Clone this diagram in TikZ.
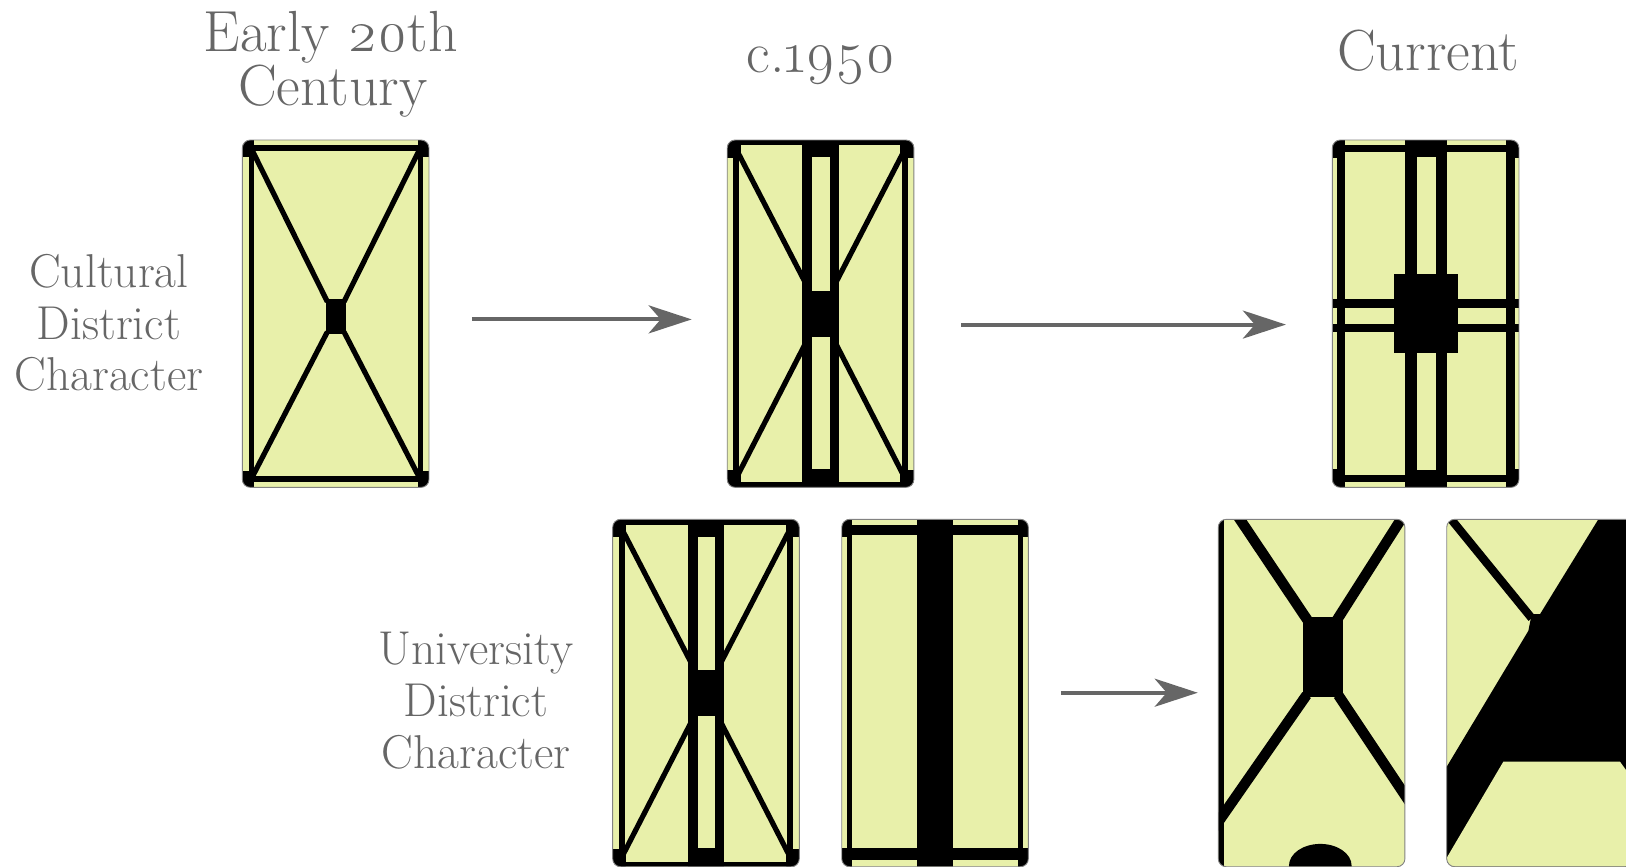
\documentclass[tikz,border=0pt]{standalone}
\usepackage{fontspec}
\setmainfont{lmroman17-regular.otf}[Numbers=OldStyle]
\usetikzlibrary{arrows.meta}
\definecolor{blk}{RGB}{232,240,170}
\definecolor{txt}{RGB}{102,102,102}
\definecolor{edgegray}{RGB}{130,130,130}
\tikzset{
  headtxt/.style={text=txt, font=\fontsize{58}{60}\selectfont, inner sep=0pt, anchor=base},
  sidetxt/.style={text=txt, font=\fontsize{47.5}{50}\selectfont, inner sep=0pt, anchor=base},
  flow/.style={draw=txt, line width=4pt, -{Stealth[length=43pt,width=28pt,inset=12pt]}},
  plotedge/.style={draw=edgegray, line width=0.9pt, rounded corners=8pt},
  plotclip/.style={rounded corners=8pt},
  road/.style={line width=5.2pt},
  wideroad/.style={line width=10.4pt},
}
\newcommand{\plotbase}{\fill[blk] (0,0) rectangle (180,335);}
\newcommand{\plotB}{%
  \plotbase
  \fill (0,0) rectangle (180,5);
  \fill (0,330) rectangle (180,335);
  \fill (6,0) rectangle (11.5,335);
  \fill (168.5,0) rectangle (174,335);
  \fill (0,0) rectangle (13,17);
  \fill (167,0) rectangle (180,17);
  \fill (0,318) rectangle (13,335);
  \fill (167,318) rectangle (180,335);
  \fill (72.4,0) rectangle (107.6,335);
  \fill[blk] (82,16.7) rectangle (99,145.3);
  \fill[blk] (82,189.6) rectangle (99,317.3);
  \draw[road] (8.7,9) -- (75,137);
  \draw[road] (171.3,9) -- (105,137);
  \draw[road] (8.7,326) -- (75,197);
  \draw[road] (171.3,326) -- (105,197);
}
\begin{document}
\begin{tikzpicture}[x=1.037pt, y=-1.037pt]
\useasboundingbox (0,0) rectangle (1568,836);

% headings
\node[headtxt] (h1a) at (319,50) {Early 20th};
\node[headtxt] (h1b) at (321,102) {Century};
\node[headtxt] (h2) at (792,70) {c.1950};
\node[headtxt] (h3) at (1377,68) {Current};

% row labels
\node[sidetxt] (c1) at (105,277) {Cultural};
\node[sidetxt] (c2) at (105,327) {District};
\node[sidetxt] (c3) at (105,377) {Character};
\node[sidetxt] (u1) at (459,641) {University};
\node[sidetxt] (u2) at (459,691) {District};
\node[sidetxt] (u3) at (459,741) {Character};

% Block A: early 20th century, cultural
\begin{scope}[shift={(233.7,135)}]
  \begin{scope}
    \clip[plotclip] (0,0) rectangle (180,335);
    \plotbase
    \fill (6,0) rectangle (11,335);
    \fill (169,0) rectangle (174,335);
    \fill (0,5) rectangle (180,11);
    \fill (0,324) rectangle (180,330);
    \fill (0,0) rectangle (11,16);
    \fill (169,0) rectangle (180,16);
    \fill (0,319) rectangle (11,335);
    \fill (169,319) rectangle (180,335);
    \fill (80.5,153.5) rectangle (99.5,187.5);
    \draw[road] (8.5,8) -- (82,156);
    \draw[road] (171.5,8) -- (98,156);
    \draw[road] (8.5,327) -- (82,185);
    \draw[road] (171.5,327) -- (98,185);
  \end{scope}
  \draw[plotedge] (0,0) rectangle (180,335);
\end{scope}

% Block B: c.1950, cultural
\begin{scope}[shift={(701.3,135)}]
  \begin{scope}
    \clip[plotclip] (0,0) rectangle (180,335);
    \plotB
  \end{scope}
  \draw[plotedge] (0,0) rectangle (180,335);
\end{scope}

% Block C: current, cultural
\begin{scope}[shift={(1284.8,135)}]
  \begin{scope}
    \clip[plotclip] (0,0) rectangle (180,335);
    \plotbase
    \fill (0,153.6) rectangle (180,185.4);
    \fill[blk] (0,162.3) rectangle (180,177.4);
    \fill (4.2,0) rectangle (12.2,335);
    \fill (167.8,0) rectangle (175.8,335);
    \fill (0,4.8) rectangle (180,11.9);
    \fill (0,323.1) rectangle (180,330.2);
    \fill (0,0) rectangle (12.2,17.7);
    \fill (167.8,0) rectangle (180,17.7);
    \fill (0,317.3) rectangle (12.2,335);
    \fill (167.8,317.3) rectangle (180,335);
    \fill (70.1,0) rectangle (110.3,335);
    \fill[blk] (81.4,16.7) rectangle (100,129.2);
    \fill[blk] (81.4,205.7) rectangle (100,318.3);
    \fill (59.8,129.2) rectangle (120.9,205.7);
  \end{scope}
  \draw[plotedge] (0,0) rectangle (180,335);
\end{scope}

% Block D: c.1950, university (a)
\begin{scope}[shift={(590.8,500.8)}]
  \begin{scope}
    \clip[plotclip] (0,0) rectangle (180,335);
    \plotB
  \end{scope}
  \draw[plotedge] (0,0) rectangle (180,335);
\end{scope}

% Block E: c.1950, university (b)
\begin{scope}[shift={(811.7,500.8)}]
  \begin{scope}
    \clip[plotclip] (0,0) rectangle (180,335);
    \plotbase
    \fill (0,5) rectangle (180,15.5);
    \fill (0,317.3) rectangle (180,328.5);
    \fill (5.5,0) rectangle (10.3,335);
    \fill (169.7,0) rectangle (174.5,335);
    \fill (0,0) rectangle (10.3,16.7);
    \fill (169.7,0) rectangle (180,16.7);
    \fill (0,317.3) rectangle (10.3,335);
    \fill (169.7,317.3) rectangle (180,335);
    \fill (72.3,0) rectangle (107.6,335);
  \end{scope}
  \draw[plotedge] (0,0) rectangle (180,335);
\end{scope}

% Block F: current, university (a)
\begin{scope}[shift={(1174.8,500.8)}]
  \begin{scope}
    \clip[plotclip] (0,0) rectangle (180,335);
    \plotbase
    \fill (0,0) rectangle (5.8,335);
    \draw[wideroad] (14.2,-10) -- (86.2,97.4);
    \draw[wideroad] (114.2,97.4) -- (182.6,-10);
    \draw[wideroad] (85.2,169.4) -- (-10,306.2);
    \draw[wideroad] (115.7,169.4) -- (190,280.9);
    \fill (82,94.5) rectangle (120.5,171.6);
    \fill (98.4,334) ellipse [x radius=30.2, y radius=21];
  \end{scope}
  \draw[plotedge] (0,0) rectangle (180,335);
\end{scope}

% Block G: current, university (b)
\begin{scope}[shift={(1395.1,500.8)}]
  \begin{scope}
    \clip[plotclip] (0,0) rectangle (180,335);
    \plotbase
    \draw[line width=8.3pt] (-3.8,-10) -- (82,95.4);
    \fill (149.3,-5) -- (190,-5) -- (190,340) -- (-5,340) -- (-5,246.9)
          -- (78.7,107.6) -- (82,91.4) -- (90,91.4) -- cycle;
    \fill[blk] (54.6,233.7) -- (167.1,233.7) -- (243.6,340) -- (-8,340) -- cycle;
  \end{scope}
  \draw[plotedge] (0,0) rectangle (180,335);
\end{scope}

% arrows
\coordinate (a1s) at (455,308);
\coordinate (a1e) at (667,308);
\coordinate (a2s) at (927,313);
\coordinate (a2e) at (1240,313);
\coordinate (a3s) at (1023,668);
\coordinate (a3e) at (1155,668);
\draw[flow] (a1s) -- (a1e);
\draw[flow] (a2s) -- (a2e);
\draw[flow] (a3s) -- (a3e);
\end{tikzpicture}
\end{document}
